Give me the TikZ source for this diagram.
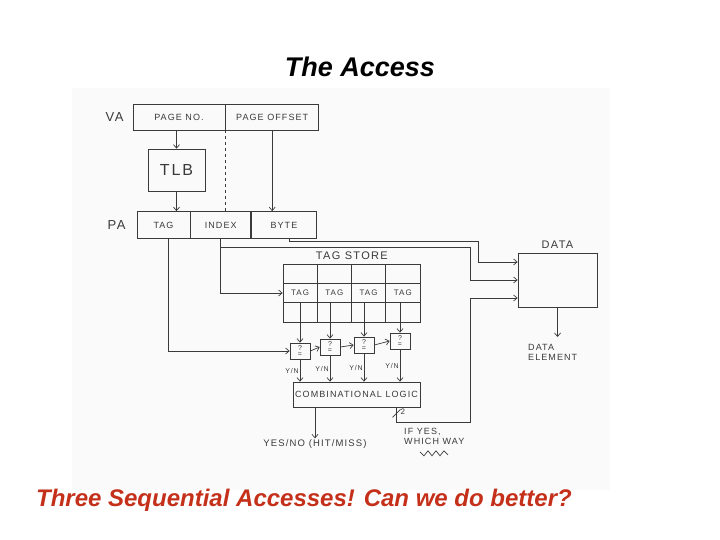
\documentclass[tikz,border=0pt]{standalone}
\usepackage{fontspec}
\setmainfont{Liberation Sans}
\newfontfamily\handfont[LetterSpace=12]{Liberation Sans}
\usetikzlibrary{positioning, arrows.meta}
\definecolor{ink}{HTML}{3A3A3A}
\definecolor{slidered}{HTML}{C4301A}
\definecolor{paper}{HTML}{FAFAFA}
\begin{document}
\begin{tikzpicture}[x=1pt,y=-1pt, >={Straight Barb[length=3.5pt,width=6pt]},
  box/.style={draw=ink, line width=0.7pt, inner sep=0pt, text=ink, font=\handfont\fontsize{9}{10}\selectfont},
  hand/.style={text=ink, inner sep=1pt, font=\handfont\fontsize{9}{10}\selectfont},
  wire/.style={draw=ink, line width=0.7pt},
  flow/.style={wire, ->}]
\useasboundingbox (0,0) rectangle (720,540);
\fill[paper] (72,88) rectangle (610,490);

% slide texts
\node[font=\bfseries\itshape\fontsize{27}{30}\selectfont] (title) at (360,67) {The Access};
\node[font=\bfseries\itshape\fontsize{24}{28}\selectfont, text=slidered] (tagline) at (304,500) {Three Sequential Accesses! Can we do better?};

% virtual address and TLB
\node[box, minimum width=92pt, minimum height=26pt] (pageno) at (179,117) {PAGE NO.};
\node[box, minimum width=93pt, minimum height=26pt, anchor=west] (pageoff) at (pageno.east) {PAGE OFFSET};
\node[hand, font=\handfont\fontsize{13}{14}\selectfont, left=8pt of pageno] (va) {VA};
\node[box, minimum width=57pt, minimum height=42pt, font=\handfont\fontsize{16}{18}\selectfont] (tlb) at (176.5,170) {TLB};

% physical address
\node[box, minimum width=53pt, minimum height=27pt] (patag) at (163.5,225) {TAG};
\node[box, minimum width=60pt, minimum height=27pt, anchor=west] (paidx) at (patag.east) {INDEX};
\node[box, minimum width=65pt, minimum height=27pt, anchor=west] (pabyte) at (paidx.east) {BYTE};
\node[hand, font=\handfont\fontsize{13}{14}\selectfont, left=10pt of patag] (pa) {PA};

\draw[flow] (tlb.north |- pageno.south) -- (tlb.north);
\draw[flow] (tlb.south) -- (tlb.south |- patag.north);
\draw[wire, dashed] (pageno.south east) -- (pageno.south east |- paidx.north);
\draw[flow] (pageoff.south) -- (pageoff.south |- pabyte.north);

% tag store
\foreach \r in {1,2,3}
  \foreach \c in {1,...,4}
    \node[box, minimum width=34.25pt, minimum height=19.33pt, font=\handfont\fontsize{8}{9}\selectfont]
      (cell-\r-\c) at ({283+34.25*(\c-0.5)}, {264+19.33*(\r-0.5)}) {\ifnum\r=2 TAG\fi};
\node[hand, font=\handfont\fontsize{11}{12}\selectfont, above=3pt of cell-1-2.north east] (storelbl) {TAG STORE};

% comparators
\foreach \i/\x/\y in {1/300/351, 2/330/347, 3/364/345, 4/400/341}
  \node[box, minimum width=20pt, minimum height=16pt, align=center, font=\fontsize{7}{5.5}\selectfont] (cmp\i) at (\x,\y) {?\\=};
\foreach \i in {1,...,4}
  \draw[flow] (cmp\i.north |- cell-2-\i.south) -- (cmp\i.north);
\foreach \i/\j in {1/2, 2/3, 3/4}
  \draw[flow] (cmp\i.east) -- (cmp\j.west);
\draw[flow] ([xshift=4.5pt]patag.south) |- (cmp1.west);
\draw[flow] (paidx.south) |- (cell-2-1.west);

% combinational logic
\node[box, minimum width=127pt, minimum height=25pt] (comb) at (356.5,394.5) {COMBINATIONAL LOGIC};
\foreach \i in {1,...,4}
  \draw[flow] (cmp\i.south) -- node[hand, left, font=\handfont\fontsize{7}{8}\selectfont] {Y/N} (cmp\i.south |- comb.north);
\node[hand, font=\handfont\fontsize{9.5}{10}\selectfont] (hit) at (315,444) {YES/NO (HIT/MISS)};
\draw[flow] (hit.north |- comb.south) -- (hit.north);

% data array
\node[box, minimum width=79pt, minimum height=54pt] (data) at (557.5,280) {};
\node[hand, font=\handfont\fontsize{11}{12}\selectfont, above=3pt of data] (datalbl) {DATA};
\node[hand, align=left, anchor=north west] (elem) at (527,343) {DATA\\ELEMENT};
\draw[flow] (data.south) -- ([yshift=6pt]data.south |- elem.north);

% buses into data
\coordinate (busx) at (470,0);
\coordinate (outx) at (478,0);
\coordinate (idxtap) at ([yshift=-8pt]paidx.south);
\coordinate (wayout) at ([xshift=40pt]comb.south);
\draw[flow] ([xshift=5pt]pabyte.south) |- ([yshift=-2pt]pabyte.south -| outx) |- ([yshift=18pt]data.west);
\draw[flow] (idxtap) -| (busx |- data.west) -- (data.west);
\draw[flow] (wayout) |- ([yshift=-15pt]wayout -| busx) |- ([yshift=-18pt]data.west);
\draw[wire] ([xshift=-4pt,yshift=-10pt]wayout) -- ([xshift=4pt,yshift=-2pt]wayout);
\node[hand, font=\handfont\fontsize{8}{9}\selectfont, anchor=west] (width) at ([xshift=3pt,yshift=-4pt]wayout) {2};
\node[hand, align=left, anchor=north west] (waylbl) at (403,427) {IF YES,\\WHICH WAY};
\draw[wire] ([xshift=17pt,yshift=-6pt]waylbl.south west) -- ++(4,4) -- ++(4,-5) -- ++(4,5) -- ++(4,-5) -- ++(4,5) -- ++(4,-5) -- ++(4,4);
\end{tikzpicture}
\end{document}
